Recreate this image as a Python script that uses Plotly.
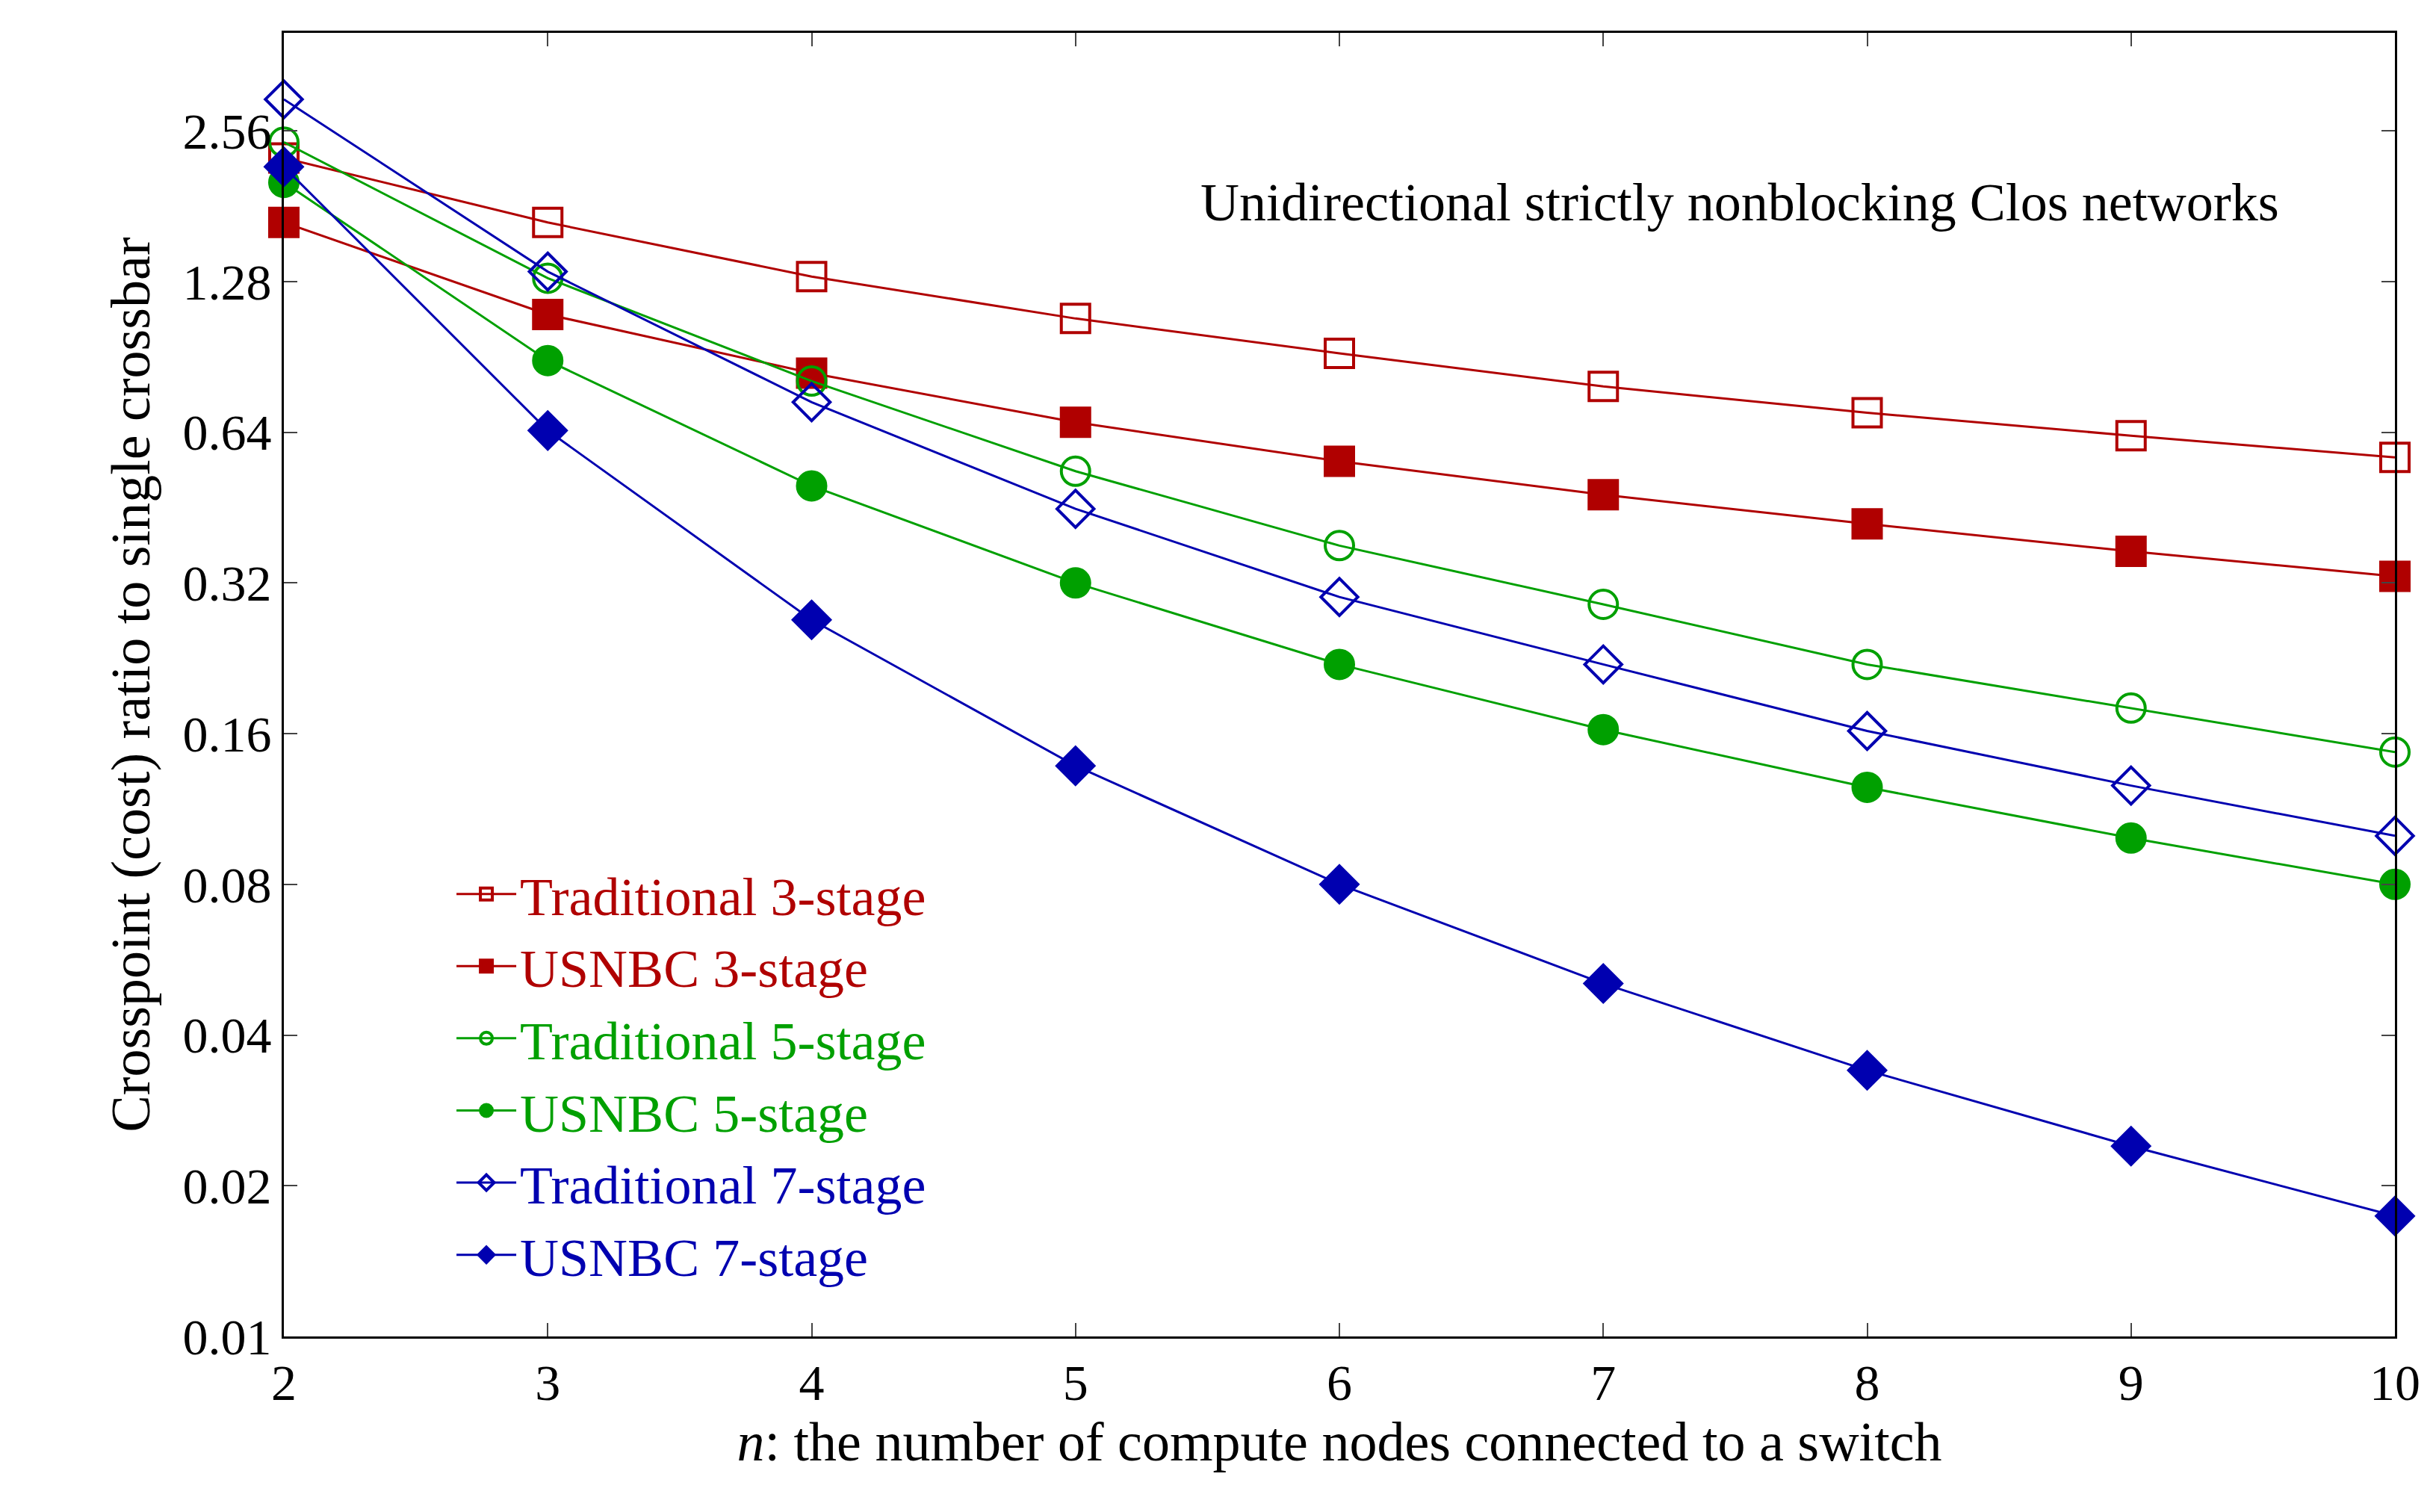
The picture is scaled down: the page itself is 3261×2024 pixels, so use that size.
import plotly.graph_objects as go

n = [2, 3, 4, 5, 6, 7, 8, 9, 10]

trad3 = [2.26, 1.68, 1.31, 1.08, 0.92, 0.79, 0.70, 0.63, 0.57]
usnbc3 = [1.68, 1.10, 0.84, 0.67, 0.56, 0.48, 0.42, 0.37, 0.33]
trad5 = [2.43, 1.30, 0.81, 0.535, 0.38, 0.29, 0.22, 0.18, 0.147]
usnbc5 = [2.02, 0.89, 0.50, 0.32, 0.22, 0.163, 0.125, 0.099, 0.08]
trad7 = [2.96, 1.34, 0.735, 0.45, 0.30, 0.22, 0.162, 0.126, 0.10]
usnbc7 = [2.17, 0.645, 0.27, 0.138, 0.08, 0.0507, 0.034, 0.024, 0.0174]

y_ticks = [0.01, 0.02, 0.04, 0.08, 0.16, 0.32, 0.64, 1.28, 2.56]

red = "#b00000"
green = "#00a000"
blue = "#0000b0"

series = [
    ("Traditional 3-stage", trad3, red, "square-open"),
    ("USNBC 3-stage", usnbc3, red, "square"),
    ("Traditional 5-stage", trad5, green, "circle-open"),
    ("USNBC 5-stage", usnbc5, green, "circle"),
    ("Traditional 7-stage", trad7, blue, "diamond-open"),
    ("USNBC 7-stage", usnbc7, blue, "diamond"),
]

fig = go.Figure()
for name, vals, col, sym in series:
    fig.add_trace(go.Scatter(
        x=n, y=vals, mode="lines+markers", cliponaxis=False,
        name="<span style='color:%s'>%s</span>" % (col, name),
        line=dict(color=col, width=3),
        marker=dict(symbol=sym, size=38, color=col, line=dict(color=col, width=4)),
    ))

font = "Liberation Serif"
fig.update_layout(
    width=3261, height=2024,
    paper_bgcolor="white", plot_bgcolor="white",
    margin=dict(l=372, r=63, t=36, b=243),
    font=dict(family=font, size=68, color="black"),
    legend=dict(x=0.08, y=0.37, xanchor="left", yanchor="top",
                bgcolor="rgba(0,0,0,0)", font=dict(size=72),
                tracegroupgap=0, itemwidth=80),
    annotations=[dict(text="Unidirectional strictly nonblocking Clos networks",
                      xref="paper", yref="paper", x=0.946, y=0.87,
                      xanchor="right", yanchor="middle", showarrow=False,
                      font=dict(size=72))],
)
fig.update_xaxes(
    range=[2, 10], tickvals=n, ticks="inside", ticklen=18, tickwidth=2,
    showline=True, linecolor="black", linewidth=3, mirror="ticks",
    showgrid=False, zeroline=False,
    title=dict(text="<i>n</i>: the number of compute nodes connected to a switch",
               font=dict(size=74), standoff=15),
)
fig.update_yaxes(
    type="log", range=[-2, 0.604], tickvals=y_ticks,
    ticktext=["%.2f" % v for v in y_ticks],
    ticks="inside", ticklen=18, tickwidth=2,
    showline=True, linecolor="black", linewidth=3, mirror="ticks",
    showgrid=False, zeroline=False,
    title=dict(text="Crosspoint (cost) ratio to single crossbar",
               font=dict(size=74), standoff=20),
)

fig.write_html("out.html")
